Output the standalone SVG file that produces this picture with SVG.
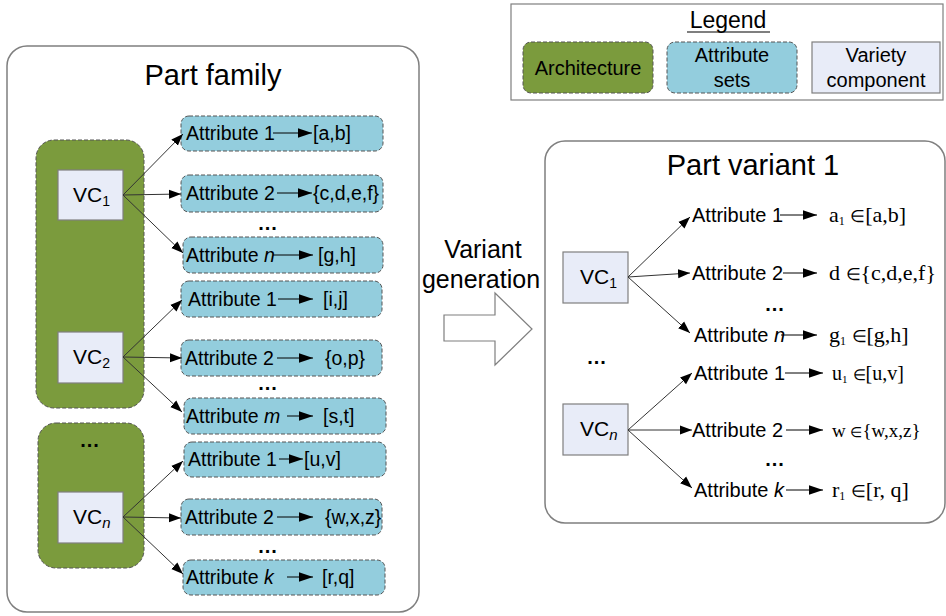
<svg xmlns="http://www.w3.org/2000/svg" width="946" height="616" viewBox="0 0 946 616">
<defs>
<style>
text{font-family:"Liberation Sans",Arial,sans-serif;fill:#000}
.outer{fill:#fff;stroke:#7f7f7f;stroke-width:1.5}
.arch{fill:#7b9b3d;stroke:#555;stroke-width:1;stroke-dasharray:4 2}
.attr{fill:#93cddd;stroke:#555;stroke-width:1;stroke-dasharray:4 2}
.vc{fill:#e8ecf8;stroke:#7f7f7f;stroke-width:1.2}
.title{font-size:29px;text-anchor:middle}
.lab{font-size:19.5px}
.vlab{font-size:20px}
.vcl{font-size:21px}
.val{font-size:19.5px}
.tval{font-family:"Liberation Serif","Times New Roman",serif;font-size:22px}
.el{font-size:17px}
.dots{font-size:20px;font-weight:bold;text-anchor:middle;letter-spacing:1px}
.conn{stroke:#333;stroke-width:1;fill:none;marker-end:url(#ah)}
.inl{stroke:#000;stroke-width:1;fill:none;marker-end:url(#ah2)}
.leg{font-size:20px;text-anchor:middle}
</style>
<marker id="ah" markerUnits="userSpaceOnUse" markerWidth="12" markerHeight="10" refX="12" refY="4.5" orient="auto" viewBox="0 0 12 9"><path d="M0,0 L12,4.5 L0,9 z" fill="#000"/></marker>
<marker id="ah2" markerUnits="userSpaceOnUse" markerWidth="14" markerHeight="10" refX="13" refY="4.5" orient="auto" viewBox="0 0 13 9"><path d="M0,0 L13,4.5 L0,9 z" fill="#000"/></marker>
</defs>

<g id="legend">
<rect x="511" y="4" width="432" height="96" fill="#fff" stroke="#7f7f7f" stroke-width="1.2"/>
<text x="728" y="28" font-size="23" text-anchor="middle">Legend</text>
<line x1="687" y1="32" x2="770" y2="32" stroke="#000" stroke-width="1.2"/>
<rect class="arch" x="523" y="42" width="130" height="51" rx="8"/>
<text class="leg" x="588" y="75">Architecture</text>
<rect class="attr" x="667" y="42" width="130" height="51" rx="8"/>
<text class="leg" x="732" y="62">Attribute</text>
<text class="leg" x="732" y="87">sets</text>
<rect class="vc" x="812" y="42" width="128" height="51"/>
<text class="leg" x="876" y="62">Variety</text>
<text class="leg" x="876" y="87">component</text>
</g>

<g id="part-family">
<rect class="outer" x="7" y="46" width="412" height="566" rx="20"/>
<text class="title" x="213" y="85">Part family</text>
</g>

<g id="arch-1"><rect class="arch" x="36" y="140" width="108" height="268" rx="18"/></g>
<g id="arch-2"><rect class="arch" x="38" y="423" width="106" height="145" rx="18"/>
<text class="dots" x="90" y="447">...</text></g>

<g id="vc1"><rect class="vc" x="58" y="170" width="65" height="50"/>
<text class="vcl" x="73" y="202">VC<tspan font-size="14" dy="4">1</tspan></text></g>
<g id="vc2"><rect class="vc" x="58" y="332" width="65" height="51"/>
<text class="vcl" x="73" y="364">VC<tspan font-size="14" dy="4">2</tspan></text></g>
<g id="vcn"><rect class="vc" x="58" y="492" width="65" height="51"/>
<text class="vcl" x="73" y="524">VC<tspan font-size="15" dy="4" font-style="italic">n</tspan></text></g>

<g id="a1-1"><rect class="attr" x="181" y="116" width="202" height="35" rx="8"/>
<text class="lab" x="186" y="140">Attribute 1</text>
<line class="inl" x1="273" y1="133" x2="312" y2="133"/>
<text class="val" x="313" y="140">[a,b]</text></g>
<g id="a1-2"><rect class="attr" x="181" y="175" width="202" height="37" rx="8"/>
<text class="lab" x="186" y="200">Attribute 2</text>
<line class="inl" x1="277" y1="193" x2="312" y2="193"/>
<text class="val" x="313" y="200">{c,d,e,f}</text></g>
<text class="dots" x="268" y="230">...</text>
<g id="a1-n"><rect class="attr" x="183" y="237" width="200" height="36" rx="8"/>
<text class="lab" x="186" y="262">Attribute <tspan font-style="italic">n</tspan></text>
<line class="inl" x1="273" y1="255" x2="313" y2="255"/>
<text class="val" x="318" y="262">[g,h]</text></g>

<g id="a2-1"><rect class="attr" x="181" y="281" width="201" height="36" rx="8"/>
<text class="lab" x="188" y="306">Attribute 1</text>
<line class="inl" x1="278" y1="299" x2="313" y2="299"/>
<text class="val" x="323" y="306">[i,j]</text></g>
<g id="a2-2"><rect class="attr" x="181" y="340" width="201" height="36" rx="8"/>
<text class="lab" x="185" y="365">Attribute 2</text>
<line class="inl" x1="277" y1="358" x2="313" y2="358"/>
<text class="val" x="325" y="365">{o,p}</text></g>
<text class="dots" x="268" y="390">...</text>
<g id="a2-m"><rect class="attr" x="184" y="398" width="202" height="36" rx="8"/>
<text class="lab" x="186" y="423">Attribute <tspan font-style="italic">m</tspan></text>
<line class="inl" x1="287" y1="416" x2="313" y2="416"/>
<text class="val" x="323" y="423">[s,t]</text></g>

<g id="an-1"><rect class="attr" x="184" y="442" width="202" height="35" rx="8"/>
<text class="lab" x="188" y="466">Attribute 1</text>
<line class="inl" x1="279" y1="459" x2="303" y2="459"/>
<text class="val" x="304" y="466">[u,v]</text></g>
<g id="an-2"><rect class="attr" x="181" y="499" width="201" height="36" rx="8"/>
<text class="lab" x="185" y="524">Attribute 2</text>
<line class="inl" x1="277" y1="517" x2="313" y2="517"/>
<text class="val" x="325" y="524">{w,x,z}</text></g>
<text class="dots" x="268" y="553">...</text>
<g id="an-k"><rect class="attr" x="183" y="560" width="202" height="35" rx="8"/>
<text class="lab" x="186" y="584">Attribute <tspan font-style="italic">k</tspan></text>
<line class="inl" x1="287" y1="577" x2="313" y2="577"/>
<text class="val" x="322" y="584">[r,q]</text></g>

<g id="variant-generation">
<text x="483" y="258" font-size="25" text-anchor="middle">Variant</text>
<text x="481" y="288" font-size="25" text-anchor="middle">generation</text>
<polygon points="444,315 495,315 495,293 532,329 495,365 495,341 444,341" fill="#fff" stroke="#7f7f7f" stroke-width="1.2"/>
</g>

<g id="part-variant-1">
<rect class="outer" x="545" y="141" width="400" height="382" rx="20"/>
<text class="title" x="753" y="175">Part variant 1</text>
<text class="dots" x="597" y="364">...</text>
</g>
<g id="pv-vc1"><rect class="vc" x="563" y="252" width="65" height="51"/>
<text class="vcl" x="580" y="284">VC<tspan font-size="14" dy="4">1</tspan></text></g>
<g id="pv-vcn"><rect class="vc" x="563" y="404" width="65" height="51"/>
<text class="vcl" x="580" y="436">VC<tspan font-size="15" dy="4" font-style="italic">n</tspan></text></g>

<g id="pv-1-1"><text class="vlab" x="692" y="222">Attribute 1</text>
<line class="inl" x1="780" y1="215" x2="817" y2="215"/>
<text class="tval" x="829" y="222">a<tspan font-size="12" dy="3">1</tspan><tspan dy="-3"> </tspan><tspan class="el">∈</tspan>[a,b]</text></g>
<g id="pv-1-2"><text class="vlab" x="692" y="280">Attribute 2</text>
<line class="inl" x1="783" y1="273" x2="817" y2="273"/>
<text class="tval" x="829" y="280">d <tspan class="el">∈</tspan>{c,d,e,f}</text></g>
<text class="dots" x="775" y="311">...</text>
<g id="pv-1-n"><text class="vlab" x="694" y="342">Attribute <tspan font-style="italic">n</tspan></text>
<line class="inl" x1="781" y1="335" x2="817" y2="335"/>
<text class="tval" x="829" y="342">g<tspan font-size="12" dy="3">1</tspan><tspan dy="-3"> </tspan><tspan class="el">∈</tspan>[g,h]</text></g>

<g id="pv-n-1"><text class="vlab" x="694" y="380">Attribute 1</text>
<line class="inl" x1="785" y1="373" x2="823" y2="373"/>
<text class="tval" x="832" y="380" style="font-size:20px">u<tspan font-size="11" dy="3">1</tspan><tspan dy="-3"> </tspan><tspan class="el" style="font-size:15px">∈</tspan>[u,v]</text></g>
<g id="pv-n-2"><text class="vlab" x="692" y="437">Attribute 2</text>
<line class="inl" x1="786" y1="430" x2="823" y2="430"/>
<text class="tval" x="832" y="437" style="font-size:19px">w <tspan class="el" style="font-size:14px">∈</tspan>{w,x,z}</text></g>
<text class="dots" x="775" y="466">...</text>
<g id="pv-n-k"><text class="vlab" x="694" y="497">Attribute <tspan font-style="italic">k</tspan></text>
<line class="inl" x1="786" y1="490" x2="823" y2="490"/>
<text class="tval" x="832" y="497">r<tspan font-size="12" dy="3">1</tspan><tspan dy="-3"> </tspan><tspan class="el">∈</tspan>[r, q]</text></g>

<g id="connectors">
<line class="conn" x1="123" y1="195" x2="183" y2="134"/>
<line class="conn" x1="123" y1="195" x2="181" y2="194"/>
<line class="conn" x1="123" y1="195" x2="183" y2="253"/>
<line class="conn" x1="123" y1="357" x2="182" y2="300"/>
<line class="conn" x1="123" y1="357" x2="182" y2="358"/>
<line class="conn" x1="123" y1="357" x2="182" y2="412"/>
<line class="conn" x1="123" y1="517" x2="183" y2="461"/>
<line class="conn" x1="123" y1="517" x2="181" y2="518"/>
<line class="conn" x1="123" y1="517" x2="183" y2="574"/>
<line class="conn" x1="628" y1="277" x2="690" y2="217"/>
<line class="conn" x1="628" y1="277" x2="690" y2="273"/>
<line class="conn" x1="628" y1="277" x2="690" y2="333"/>
<line class="conn" x1="628" y1="430" x2="692" y2="373"/>
<line class="conn" x1="628" y1="430" x2="692" y2="430"/>
<line class="conn" x1="628" y1="430" x2="692" y2="488"/>
</g>
</svg>
